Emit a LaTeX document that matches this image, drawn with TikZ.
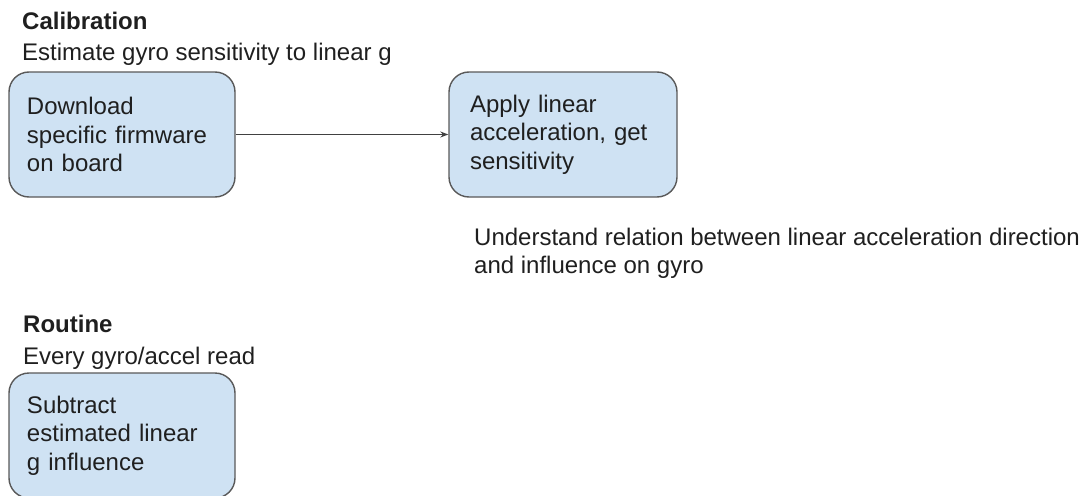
\documentclass[tikz,border=0pt]{standalone}
\usepackage{fontspec}
\setmainfont{Liberation Sans}
\usetikzlibrary{arrows.meta}
\definecolor{boxfill}{HTML}{CFE2F3}
\definecolor{boxline}{HTML}{595959}
\definecolor{txt}{HTML}{1F1F1F}
\tikzset{
  stepbox/.style={draw=boxline, line width=1.4pt, fill=boxfill, rounded corners=20pt,
    minimum width=226pt, minimum height=125pt, text width=190pt, inner xsep=18pt,
    align=left, font=\fontsize{24}{28.5}\selectfont, text=txt},
  label/.style={anchor=base west, inner sep=0pt, font=\fontsize{24}{28.5}\selectfont, text=txt},
  title/.style={label, font=\fontsize{24}{28.5}\selectfont\bfseries},
  conn/.style={draw=txt!85, line width=1.2pt, -{Stealth[length=8pt,width=6pt]}}
}
\begin{document}
\begin{tikzpicture}[x=1pt,y=-1pt]
\useasboundingbox (0,0) rectangle (1089,495);
\node[title] (t1) at (22,30) {Calibration};
\node[label] (s1) at (22,60) {Estimate gyro sensitivity to linear g};
\node[stepbox] (b1) at (122,134.5) {Download\\specific firmware\\on board};
\node[stepbox, text width=186pt, inner xsep=21pt] (b2) at (563,134.5) {Apply linear\\acceleration, get\\sensitivity};
\draw[conn] (b1.east) -- (b2.west);
\node[label] (u1) at (474,245) {Understand relation between linear acceleration direction};
\node[label] (u2) at (474,273) {and influence on gyro};
\node[title] (t2) at (23,332) {Routine};
\node[label] (s2) at (23,364) {Every gyro/accel read};
\node[stepbox] (b3) at (122,435.5) {Subtract\\estimated linear\\g influence};
\end{tikzpicture}
\end{document}
